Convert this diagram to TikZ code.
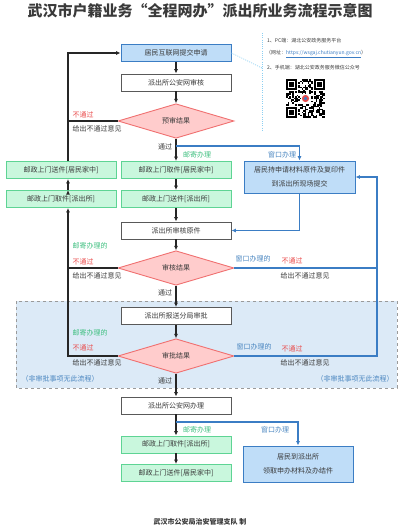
\documentclass[tikz,border=0pt]{standalone}
\usepackage{fontspec}
\setmainfont{Noto Sans CJK SC}
\usetikzlibrary{shapes.geometric,arrows.meta}
\definecolor{boxgray}{HTML}{595959}
\definecolor{textgray}{HTML}{3A3A3A}
\definecolor{mailline}{HTML}{5ED494}
\definecolor{mailfill}{HTML}{C9F7DD}
\definecolor{winline}{HTML}{3B7DC4}
\definecolor{winfill}{HTML}{BFDDF8}
\definecolor{decline}{HTML}{F07070}
\definecolor{decfill}{HTML}{FFCCCC}
\definecolor{flowblack}{HTML}{262626}
\definecolor{nored}{HTML}{E94B4B}
\definecolor{mailtext}{HTML}{3EBF7F}
\definecolor{wintext}{HTML}{4A86C0}
\definecolor{regionfill}{HTML}{DCEAF7}
\definecolor{regiongray}{HTML}{9A9A9A}
\definecolor{linkblue}{HTML}{8CCFF2}

\begin{document}
\begin{tikzpicture}[x=1pt, y=-1pt,
    box/.style={draw=boxgray, fill=white, line width=0.9pt, minimum width=110pt, minimum height=17pt, inner sep=0pt, text=textgray, font=\fontsize{7}{9}\selectfont},
    mailbox/.style={box, draw=mailline, fill=mailfill},
    windowbox/.style={box, draw=winline, fill=winfill, align=center, font=\fontsize{7}{14}\selectfont},
    decision/.style={diamond, draw=decline, fill=decfill, line width=0.9pt, minimum width=116pt, minimum height=34pt, inner sep=0pt, text=textgray, font=\fontsize{7}{9}\selectfont},
    flow/.style={draw=flowblack, line width=1.3pt, -{Latex[length=4.5pt,width=4pt]}},
    wflow/.style={flow, draw=winline},
    plain/.style={draw=flowblack, line width=1.3pt},
    wline/.style={draw=winline, line width=1.3pt},
    link/.style={draw=linkblue, dash pattern=on 1pt off 1.2pt, line width=0.7pt},
    note/.style={inner sep=0pt, text=textgray, font=\fontsize{7}{9}\selectfont},
    nopass/.style={note, text=nored},
    post/.style={note, text=mailtext},
    window/.style={note, text=wintext},
    info/.style={inner sep=0pt, anchor=west, text=textgray, font=\fontsize{5}{6}\selectfont},
    qr/.style={fill=black}]
    \useasboundingbox (0,0) rectangle (400,527);

    % region of the approval step
    \draw[dashed, draw=regiongray, fill=regionfill, line width=0.8pt] (16,301) rectangle (397,388);

    \node[font=\fontsize{15}{17}\selectfont\bfseries, text=textgray] (title) at (200,11) {武汉市户籍业务“全程网办”派出所业务流程示意图};

    % main column
    \node[style=box, fill=winfill, draw=winline] (apply) at (176,53) {居民互联网提交申请};
    \node[style=box] (check1) at (176,82.5) {派出所公安网审核};
    \node[style=decision] (pre) at (176,121) {预审结果};
    \node[style=mailbox] (mailC) at (176,170) {邮政上门取件[居民家中]};
    \node[style=mailbox] (mailD) at (176,199) {邮政上门送件[派出所]};
    \node[style=box] (check2) at (176,230.5) {派出所审核原件};
    \node[style=decision] (audit) at (176,268) {审核结果};
    \node[style=box] (report) at (176,316) {派出所报送分局审批};
    \node[style=decision] (approve) at (176,356) {审批结果};
    \node[style=box] (handle) at (176,405.5) {派出所公安网办理};
    \node[style=mailbox] (mailE) at (176,444.5) {邮政上门取件[派出所]};
    \node[style=mailbox] (mailF) at (176,473) {邮政上门送件[居民家中]};

    % left column
    \node[style=mailbox] (mailA) at (61,170) {邮政上门送件[居民家中]};
    \node[style=mailbox] (mailB) at (61,199) {邮政上门取件[派出所]};

    % window boxes
    \node[style=windowbox, minimum width=111pt, minimum height=32pt] (window1) at (299.5,177) {居民持申请材料原件及复印件\\到派出所现场提交};
    \node[style=windowbox, minimum height=36pt] (window2) at (298,464) {居民到派出所\\领取申办材料及办结件};

    \coordinate (lx) at (68,0);
    \coordinate (rx) at (377,177);
    \coordinate (pass1) at (176,146);
    \coordinate (pass2) at (176,422);
    \coordinate (sep) at (262,68);
    \coordinate (septop) at (262,33);
    \coordinate (sepbot) at (262,130);

    \draw[flow]
        (apply) edge (check1)
        (check1) edge (pre)
        (pre) edge (mailC)
        (mailC) edge (mailD)
        (mailD) edge (check2)
        (check2) edge (audit)
        (audit) edge (report)
        (report) edge (approve)
        (approve) edge (handle)
        (handle) edge (mailE)
        (mailE) edge (mailF)
        ([xshift=7pt]mailB.north) edge ([xshift=7pt]mailA.south)
    ;
    \draw[plain] (pre.west) -- (pre.west -| lx);
    \draw[flow] ([xshift=7pt]mailA.north) |- (apply.west);
    \draw[plain] (audit.west) -- (audit.west -| lx);
    \draw[flow] (approve.west) -| ([xshift=7pt]mailB.south);

    \draw[wflow] (pass1) -| (window1.north);
    \draw[wflow] (window1.south) |- (check2.east);
    \draw[wline] (audit.east) -- (audit.east -| rx);
    \draw[wflow] (approve.east) -| (rx) -- (window1.east);
    \draw[wflow] (pass2) -| (window2.north);

    \draw[link] (apply.east) -- (sep);
    \draw[link] (septop) -- (sepbot);

    % labels
    \node[style=nopass] (no1) at (83,115) {不通过};
    \node[style=note] (back1) at (97,129) {给出不通过意见};
    \node[style=note] (ok1) at (165,147) {通过};
    \node[style=post] (post1) at (197,155) {邮寄办理};
    \node[style=window] (win1) at (282,155) {窗口办理};

    \node[style=post] (post2) at (90,246) {邮寄办理的};
    \node[style=nopass] (no2) at (83,262) {不通过};
    \node[style=note] (back2) at (97,276) {给出不通过意见};
    \node[style=window] (win2) at (253,259) {窗口办理的};
    \node[style=nopass] (no3) at (292,261) {不通过};
    \node[style=note] (back3) at (305,276) {给出不通过意见};
    \node[style=note] (ok2) at (165,293) {通过};

    \node[style=post] (post3) at (90,333) {邮寄办理的};
    \node[style=nopass] (no4) at (83,348) {不通过};
    \node[style=note] (back4) at (97,363) {给出不通过意见};
    \node[style=window] (win3) at (254,347) {窗口办理的};
    \node[style=nopass] (no5) at (292,349) {不通过};
    \node[style=note] (back5) at (305,363) {给出不通过意见};
    \node[style=window] (skipL) at (60,379) {（非审批事项无此流程）};
    \node[style=window] (skipR) at (355,379) {（非审批事项无此流程）};
    \node[style=note] (ok3) at (165,381) {通过};

    \node[style=post] (post4) at (197,430) {邮寄办理};
    \node[style=window] (win4) at (275,430) {窗口办理};

    % info and qr code
    \node[style=info] (pc) at (267,41) {1、PC端：湖北公安政务服务平台};
    \node[style=info] (url) at (266,54) {（网址：\textcolor{winline}{\underline{https://wsgaj.chutianyun.gov.cn}}）};
    \node[style=info] (phone) at (267,68) {2、手机端：湖北公安政务服务微信公众号};

    \pgfmathsetseed{11}
    \foreach \i in {0,...,24}{
        \foreach \j in {0,...,24}{
            \pgfmathrandominteger{\q}{0}{1}
            \ifnum\q=1 \fill[qr] (286+\i*1.56,79+\j*1.56) rectangle ++(1.56,1.56); \fi
        }
    }
    \foreach \cx/\cy/\wx/\wy in {286/79/286/79, 314.08/79/312.52/79, 286/107.08/286/105.52}{
        \fill[white] (\wx,\wy) rectangle ++(12.48,12.48);
        \fill[qr] (\cx,\cy) rectangle ++(10.92,10.92);
        \fill[white] (\cx+1.56,\cy+1.56) rectangle ++(7.8,7.8);
        \fill[qr] (\cx+3.12,\cy+3.12) rectangle ++(4.68,4.68);
    }
    \fill[white] (300.5,93.5) rectangle ++(10,10);
    \fill[nored] (305.5,98.5) circle (3.6);
    \fill[winline] (305.5,98.5) circle (1.8);

    \node[font=\fontsize{7}{8}\selectfont\bfseries, text=textgray] (maker) at (200,522) {武汉市公安局治安管理支队\ 制};
\end{tikzpicture}
\end{document}
